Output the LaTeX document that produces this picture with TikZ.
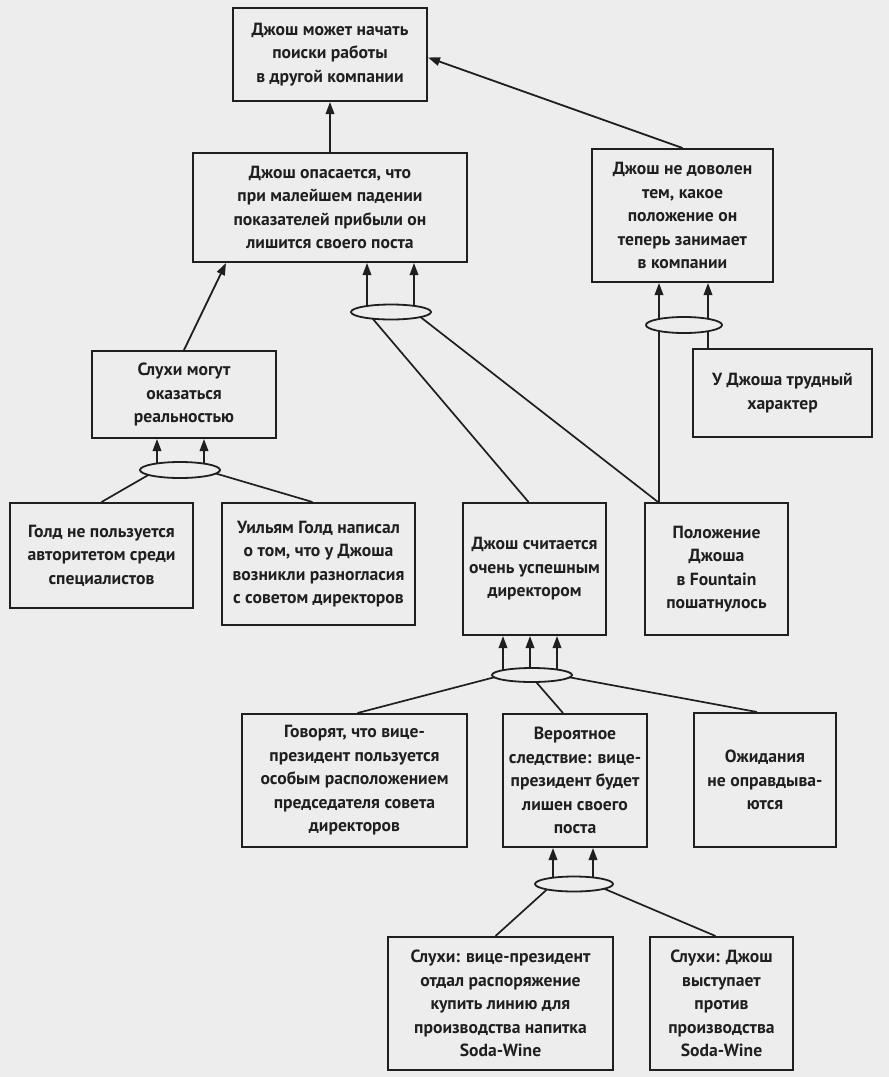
\documentclass[tikz,border=0pt]{standalone}
\usepackage{fontspec}
\setmainfont{PT Sans}
\usepackage{tikz}
\usetikzlibrary{shapes.geometric,arrows.meta,backgrounds}
\definecolor{paper}{gray}{0.93}
\definecolor{ink}{gray}{0.12}

\begin{document}
\begin{tikzpicture}[x=1pt,y=-1pt,
    box/.style 2 args={draw=ink, line width=2pt, fill=paper, align=center, inner sep=2pt,
        minimum width=#1pt, minimum height=#2pt, text=ink, font=\fontsize{17.6}{23.5}\selectfont\bfseries},
    junc/.style={ellipse, draw=ink, line width=1.8pt, fill=paper, inner sep=0pt,
        minimum width=80pt, minimum height=15pt},
    arr/.style={draw=ink, line width=1.8pt, -{Triangle[length=12pt,width=8.5pt]}},
    link/.style={draw=ink, line width=1.7pt}]
    \useasboundingbox (0,0) rectangle (889,1077);

    % Top row
    \node[box={194}{93}] (b1) at (330,54.5) {Джош может начать\\поиски работы\\в другой компании};
    \node[box={274}{109}] (b2) at (330,207.5) {Джош опасается, что\\при малейшем падении\\показателей прибыли он\\лишится своего поста};
    \node[box={181}{133}] (b3) at (682.5,215.5) {Джош не доволен\\тем, какое\\положение он\\теперь занимает\\в компании};

    % Middle rows
    \node[box={184}{87}] (b4) at (184,394.5) {Слухи могут\\оказаться\\реальностью};
    \node[box={179}{88}] (b5) at (782.5,393) {У Джоша трудный\\характер};
    \node[box={183}{105}] (b6) at (101.5,555.5) {Голд не пользуется\\авторитетом среди\\специалистов};
    \node[box={193}{122}] (b7) at (318.5,564) {Уильям Голд написал\\о том, что у Джоша\\возникли разногласия\\с советом директоров};
    \node[box={143}{132}] (b8) at (534.5,569) {Джош считается\\очень успешным\\директором};
    \node[box={143}{132}] (b9) at (716.5,569) {Положение\\Джоша\\в Fountain\\пошатнулось};

    % Bottom rows
    \node[box={225}{133}] (b10) at (354.5,780.5) {Говорят, что вице-\\президент пользуется\\особым расположением\\председателя совета\\директоров};
    \node[box={144}{133}] (b11) at (575,780.5) {Вероятное\\следствие: вице-\\президент будет\\лишен своего\\поста};
    \node[box={142}{134}] (b12) at (765,780) {Ожидания\\не оправдыва-\\ются};
    \node[box={225}{133}] (b13) at (500.5,1003.5) {Слухи: вице-президент\\отдал распоряжение\\купить линию для\\производства напитка\\Soda-Wine};
    \node[box={143}{133}] (b14) at (721.5,1003.5) {Слухи: Джош\\выступает\\против\\производства\\Soda-Wine};

    % Junctions
    \node[junc] (j1) at (391,312) {};
    \node[junc, minimum width=76pt, minimum height=16pt] (j2) at (684,325) {};
    \node[junc, minimum height=16pt] (j3) at (180,470) {};
    \node[junc, minimum height=14pt] (j4) at (532,675) {};
    \node[junc, minimum width=78pt] (j5) at (574,884) {};

    \begin{scope}[on background layer]
    \fill[paper] (0,0) rectangle (889,1077);
    % into the top box
    \draw[arr] (b2.north) -- (b1.south);
    \draw[arr] (b3.north) -- ([yshift=-3pt]b1.east);
    \draw[arr] (b4.north) -- ([xshift=34pt]b2.south west);
    % arrows out of the junctions
    \foreach \dx in {-24,23}
        \draw[arr] ([xshift=\dx pt]j1.center) -- ([xshift=\dx pt]j1.center |- b2.south);
    \foreach \dx in {-25,24}
        \draw[arr] ([xshift=\dx pt]j2.center) -- ([xshift=\dx pt]j2.center |- b3.south);
    \foreach \dx in {-23,24}
        \draw[arr] ([xshift=\dx pt]j3.center) -- ([xshift=\dx pt]j3.center |- b4.south);
    \foreach \dx in {-29,-2,25}
        \draw[arr] ([xshift=\dx pt]j4.center) -- ([xshift=\dx pt]j4.center |- b8.south);
    \foreach \dx in {-21,19}
        \draw[arr] ([xshift=\dx pt]j5.center) -- ([xshift=\dx pt]j5.center |- b11.south);
    % lines into the junctions
    \draw[link] ([xshift=-24pt]j1.center) -- ([xshift=-6pt]b8.north);
    \draw[link] ([xshift=23pt]j1.center) -- ([xshift=14pt]b9.north west);
    \draw[link] ([xshift=-25pt]j2.center) -- ([xshift=-25pt]j2.center |- b9.north);
    \draw[link] ([xshift=24pt]j2.center) -- ([xshift=24pt]j2.center |- b5.north);
    \draw[link] ([xshift=-23pt]j3.center) -- (b6.north);
    \draw[link] ([xshift=24pt]j3.center) -- ([xshift=-6pt]b7.north);
    \draw[link] ([xshift=-29pt]j4.center) -- ([xshift=3pt]b10.north);
    \draw[link] ([xshift=-2pt]j4.center) -- ([xshift=-12pt]b11.north);
    \draw[link] ([xshift=25pt]j4.center) -- ([xshift=-8pt]b12.north);
    \draw[link] ([xshift=-21pt]j5.center) -- ([xshift=-5pt]b13.north);
    \draw[link] ([xshift=19pt]j5.center) -- ([xshift=-6pt]b14.north);
    \end{scope}
\end{tikzpicture}
\end{document}
